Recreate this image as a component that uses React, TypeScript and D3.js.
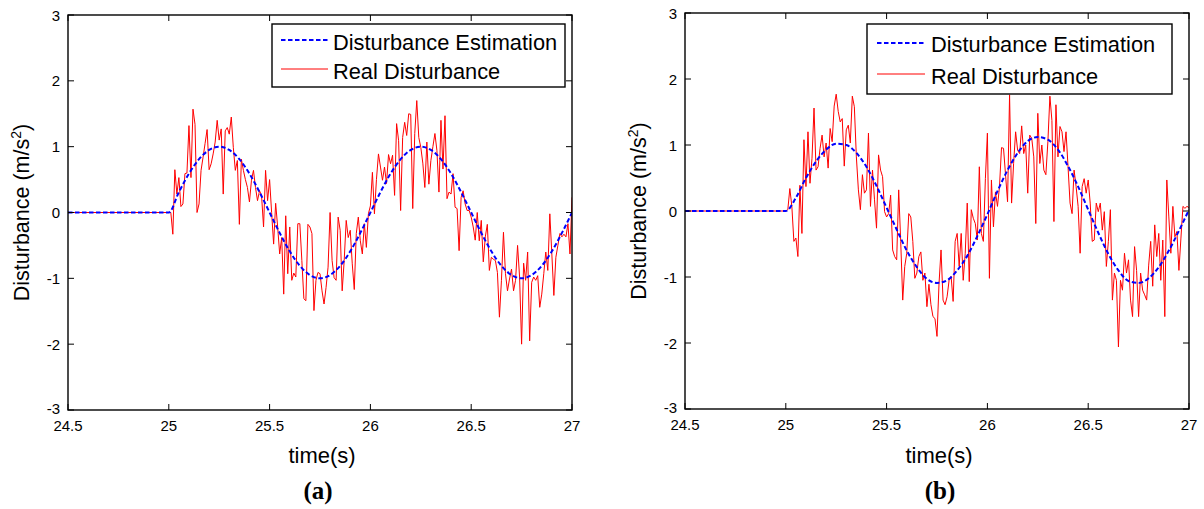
import React from 'react';
import * as d3 from 'd3';

// ---------- data ----------
const xTickValues = [24.5, 25, 25.5, 26, 26.5, 27];
const xTickLabels = ['24.5', '25', '25.5', '26', '26.5', '27'];
const yTickValues = [-3, -2, -1, 0, 1, 2, 3];
const yTickLabels = ['-3', '-2', '-1', '0', '1', '2', '3'];

const timeStart = 24.5;
const onsetTime = 25.0;
const realStep = 0.01;
const estStep = 0.05;

const seriesNames = ['Disturbance Estimation', 'Real Disturbance'];

// panel (a)
const realA = [
  0, 0, -0.33, 0.65, 0.28, 0.53, 0.09, 0.13, 0.59, 0.6,
  1.32, 0.53, 1.57, 1.34, 0.0, 0.13, 0.64, 0.84, 1.05, 1.26,
  0.65, 0.74, 0.89, 1.07, 1.4, 1.1, 1.27, 0.28, 1.24, 1.29,
  1.19, 1.45, 0.99, 0.64, 0.79, -0.18, 0.81, 0.64, 0.5, 0.38,
  0.16, 0.49, 0.64, 0.38, 0.18, 0.33, 0.26, -0.22, 0.64, 0.18,
  0.5, 0.0, -0.48, 0.14, -0.22, -0.63, -0.38, -1.24, -0.05, -0.93,
  -0.22, -1.03, -0.92, -0.98, -0.17, -0.17, -0.73, -1.31, -1.34, -0.18,
  -0.22, -0.32, -1.49, -1.03, -0.91, -0.93, -1.19, -1.39, -1.14, -0.83,
  0.0, -0.73, -0.99, -1.03, -0.07, -0.27, -1.19, -0.73, -0.12, -0.38,
  -0.27, -0.78, -1.17, -0.32, -0.07, -0.43, -0.63, -0.17, -0.53, -0.02,
  0.1, 0.61, -0.02, 0.5, 0.89, 0.69, 0.49, 0.69, 0.44, 0.88,
  0.74, 0.87, 0.26, 1.35, 1.09, 0.03, 1.14, 1.37, 1.17, 1.5,
  1.49, 0.06, 1.2, 1.7, 1.14, 0.99, 0.75, 0.38, 1.07, 0.43,
  0.79, 1.0, 1.2, 0.94, 0.31, 1.4, 0.66, 1.47, 0.21, 0.31,
  0.28, 0.59, 0.08, 0.06, -0.58, 0.23, 0.33, 0.13, 0.03, 0.03,
  -0.07, -0.22, -0.42, 0.0, -0.43, -0.12, -0.75, -0.37, -0.18, -0.88,
  -0.68, -0.71, -0.73, -0.91, -1.59, -1.03, -0.3, -0.93, -1.19, -1.01,
  -0.86, -1.19, -1.03, -0.5, -0.98, -2.0, -0.77, -1.03, -0.6, -1.95,
  -1.06, -0.98, -1.03, -0.96, -1.44, -1.24, -0.93, -0.6, -0.88, -0.02,
  -0.63, -1.26, -0.68, -0.5, -0.32, -0.37, -0.33, -0.37, -0.17, -0.63,
  0.23,
];
const estA = [
  0, 0.31, 0.59, 0.81, 0.95, 1.0, 0.95, 0.81, 0.59, 0.31,
  0, -0.31, -0.59, -0.81, -0.95, -1.0, -0.95, -0.81, -0.59, -0.31,
  0, 0.31, 0.59, 0.81, 0.95, 1.0, 0.95, 0.81, 0.59, 0.31,
  0, -0.31, -0.59, -0.81, -0.95, -1.0, -0.95, -0.81, -0.59, -0.31,
  0,
];

// panel (b)
const realB = [
  0, 0.02, 0.34, 0.07, -0.46, -0.41, -0.69, 0.39, -0.34, 1.08,
  0.37, 1.2, 0.42, 0.8, 1.56, 0.62, 0.67, 0.95, 1.15, 0.82,
  1.03, 0.65, 1.25, 1.05, 1.59, 1.77, 1.51, 1.35, 1.4, 0.68,
  1.23, 1.3, 1.03, 1.74, 1.58, 0.82, 0.32, 0.02, 0.55, 0.27,
  0.32, 1.18, 0.07, 0.62, 0.17, -0.26, 0.85, 0.62, 0.52, -0.01,
  -0.09, -0.04, 0.24, -0.59, -0.69, -0.74, 0.32, -0.46, -1.35, -0.84,
  -0.64, -0.04, -0.09, -0.46, -1.02, -0.94, -0.69, -0.62, -1.05, -0.94,
  -1.45, -1.11, -1.42, -1.6, -1.63, -1.9, -1.1, -0.59, -1.35, -1.42,
  -1.3, -1.05, -0.99, -1.37, -0.46, -0.34, -0.84, -0.34, -1.05, -0.64,
  0.12, -1.07, 0.02, -0.11, -0.19, -0.44, 0.67, -0.34, -0.46, 0.49,
  1.18, -1.02, 0.47, -0.24, 0.29, 0.07, 0.37, 0.96, 0.95, 0.55,
  0.14, 1.76, 0.12, 0.72, 1.2, 0.92, 0.87, 1.29, 0.87, 1.0,
  0.27, 1.15, 1.1, 0.82, -0.19, 1.48, 0.72, 1.0, 0.62, 0.55,
  1.05, 1.74, 1.37, -0.16, 1.61, 0.82, 1.28, 1.2, 0.9, 1.2,
  0.67, 0.12, -0.04, 0.62, 0.37, 0.07, -0.64, 0.37, 0.49, 0.27,
  0.47, 0.12, -0.46, -0.44, 0.12, -0.01, 0.12, -0.29, -0.01, -0.84,
  -0.46, 0.02, -1.35, -0.94, -1.05, -2.06, -1.05, -1.2, -0.64, -0.94,
  -0.74, -1.35, -1.6, -0.54, -0.9, -1.6, -0.94, -1.2, -1.27, -1.35,
  -0.82, -0.46, -1.14, -0.21, -0.69, -0.34, -1.05, -0.44, -1.6, 0.47,
  -0.09, -0.64, 0.07, -0.39, -0.31, -0.9, -0.41, 0.07, 0.04, 0.07,
  0.05,
];
const estB = [
  0, 0.2, 0.5, 0.75, 0.93, 1.02, 1.0, 0.88, 0.67, 0.38,
  0.05, -0.28, -0.6, -0.85, -1.03, -1.09, -1.05, -0.9, -0.68, -0.38,
  -0.05, 0.3, 0.62, 0.88, 1.06, 1.12, 1.08, 0.93, 0.68, 0.37,
  0.02, -0.33, -0.65, -0.9, -1.06, -1.09, -1.02, -0.85, -0.6, -0.3,
  0.02,
];

// ---------- layout ----------
type Panel = {
  id: string;
  caption: string;
  real: number[];
  est: number[];
  left: number; right: number; top: number; bottom: number;
  legend: { x: number; y: number; w: number; h: number; lx1: number; lx2: number; ly: number[]; tx: number; ty: number[] };
  ylabelX: number;
  captionX: number;
};

const panels: Panel[] = [
  {
    id: 'a', caption: '(a)', real: realA, est: estA,
    left: 68, right: 572, top: 15, bottom: 410,
    legend: { x: 272, y: 24, w: 293, h: 63, lx1: 281, lx2: 328, ly: [40, 69], tx: 333, ty: [50, 79] },
    ylabelX: 29, captionX: 318,
  },
  {
    id: 'b', caption: '(b)', real: realB, est: estB,
    left: 685, right: 1189, top: 13, bottom: 409,
    legend: { x: 867, y: 24, w: 305, h: 70, lx1: 877, lx2: 925, ly: [43, 74], tx: 931, ty: [52, 84] },
    ylabelX: 646, captionX: 940,
  },
];

const SANS = '"Liberation Sans", Arial, Helvetica, sans-serif';
const SERIF = '"Liberation Serif", "Times New Roman", serif';

function PanelView({ p }: { p: Panel }) {
  const x = d3.scaleLinear().domain([timeStart, 27]).range([p.left, p.right]);
  const y = d3.scaleLinear().domain([-3, 3]).range([p.bottom, p.top]);

  const realPts: [number, number][] = [[timeStart, 0], ...p.real.map((v, i) => [onsetTime + i * realStep, v] as [number, number])];
  const estPts: [number, number][] = [[timeStart, 0], ...p.est.map((v, i) => [onsetTime + i * estStep, v] as [number, number])];

  const lineReal = d3.line<[number, number]>().x(d => x(d[0])).y(d => y(d[1]));
  const lineEst = d3.line<[number, number]>().x(d => x(d[0])).y(d => y(d[1])).curve(d3.curveMonotoneX);

  const tickLen = 6;
  const clipId = `clip-${p.id}`;
  const cx = (p.left + p.right) / 2;
  const cy = (p.top + p.bottom) / 2;
  const lg = p.legend;

  return (
    <g>
      <defs>
        <clipPath id={clipId}>
          <rect x={p.left} y={p.top} width={p.right - p.left} height={p.bottom - p.top} />
        </clipPath>
      </defs>
      <g clipPath={`url(#${clipId})`}>
        <path d={lineReal(realPts) || ''} fill="none" stroke="#ff0000" strokeWidth={1} />
        <path d={lineEst(estPts) || ''} fill="none" stroke="#0000ff" strokeWidth={2} strokeDasharray="4.5 2.5" />
      </g>
      {/* ticks */}
      {xTickValues.map((t, i) => (
        <g key={`xt${i}`}>
          <line x1={x(t)} x2={x(t)} y1={p.bottom} y2={p.bottom - tickLen} stroke="#000" strokeWidth={1} />
          <line x1={x(t)} x2={x(t)} y1={p.top} y2={p.top + tickLen} stroke="#000" strokeWidth={1} />
          <text x={x(t)} y={p.bottom + 21} textAnchor="middle" fontFamily={SANS} fontSize={15} fill="#000">{xTickLabels[i]}</text>
        </g>
      ))}
      {yTickValues.map((v, i) => (
        <g key={`yt${i}`}>
          <line x1={p.left} x2={p.left + tickLen} y1={y(v)} y2={y(v)} stroke="#000" strokeWidth={1} />
          <line x1={p.right} x2={p.right - tickLen} y1={y(v)} y2={y(v)} stroke="#000" strokeWidth={1} />
          <text x={p.left - 8} y={y(v) + (v === -3 ? 4 : 5.5)} textAnchor="end" fontFamily={SANS} fontSize={15} fill="#000">{yTickLabels[i]}</text>
        </g>
      ))}
      {/* box */}
      <rect x={p.left} y={p.top} width={p.right - p.left} height={p.bottom - p.top} fill="none" stroke="#000" strokeWidth={1.4} />
      {/* legend */}
      <rect x={lg.x} y={lg.y} width={lg.w} height={lg.h} fill="#fff" stroke="#000" strokeWidth={1.4} />
      <line x1={lg.lx1} x2={lg.lx2} y1={lg.ly[0]} y2={lg.ly[0]} stroke="#0000ff" strokeWidth={2} strokeDasharray="4.5 2.5" />
      <line x1={lg.lx1} x2={lg.lx2} y1={lg.ly[1]} y2={lg.ly[1]} stroke="#ff0000" strokeWidth={1} />
      <text x={lg.tx} y={lg.ty[0]} fontFamily={SANS} fontSize={21.8} fill="#000">{seriesNames[0]}</text>
      <text x={lg.tx} y={lg.ty[1]} fontFamily={SANS} fontSize={21.8} fill="#000">{seriesNames[1]}</text>
      {/* axis labels */}
      <text transform={`translate(${p.ylabelX},${cy}) rotate(-90)`} textAnchor="middle" fontFamily={SANS} fontSize={21.5} fill="#000">
        Disturbance (m/s<tspan fontSize={14} dy={-8}>2</tspan><tspan dy={8}>)</tspan>
      </text>
      <text x={cx + 2} y={463} textAnchor="middle" fontFamily={SANS} fontSize={22} fill="#000">time(s)</text>
      <text x={p.captionX} y={499} textAnchor="middle" fontFamily={SERIF} fontWeight="bold" fontSize={25} fill="#000">{p.caption}</text>
    </g>
  );
}

export default function App() {
  return (
    <svg width={1204} height={509} style={{ position: 'absolute', left: 0, top: 0, background: '#fff' }}>
      <rect x={0} y={0} width={1204} height={509} fill="#fff" />
      {panels.map(p => <PanelView key={p.id} p={p} />)}
    </svg>
  );
}
